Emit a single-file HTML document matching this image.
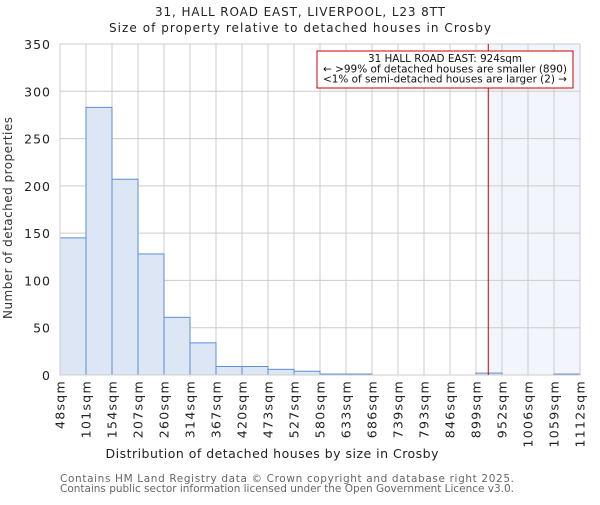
<!DOCTYPE html>
<html><head><meta charset="utf-8"><style>
body{margin:0;background:#fff}
svg{font-family:"DejaVu Sans","Liberation Sans",sans-serif}
</style></head><body>
<svg id="chart" width="600" height="500" viewBox="0 0 600 500">
<text x="300" y="16" text-anchor="middle" font-size="12" fill="#222" textLength="290" lengthAdjust="spacing">31, HALL ROAD EAST, LIVERPOOL, L23 8TT</text>
<text x="300" y="32" text-anchor="middle" font-size="12" fill="#222" textLength="382" lengthAdjust="spacing">Size of property relative to detached houses in Crosby</text>
<g id="plot"></g>
<text x="272" y="458" text-anchor="middle" font-size="12.5" fill="#222" textLength="333" lengthAdjust="spacing">Distribution of detached houses by size in Crosby</text>
<text transform="translate(12,218) rotate(-90)" text-anchor="middle" font-size="12" fill="#333" textLength="202" lengthAdjust="spacing">Number of detached properties</text>
<text x="60" y="482" font-size="10.5" fill="#666" textLength="454" lengthAdjust="spacing">Contains HM Land Registry data © Crown copyright and database right 2025.</text>
<text x="60" y="492" font-size="10.5" fill="#666" textLength="454" lengthAdjust="spacing">Contains public sector information licensed under the Open Government Licence v3.0.</text>
</svg>
<script>
const binLabels=["48sqm","101sqm","154sqm","207sqm","260sqm","314sqm","367sqm","420sqm","473sqm","527sqm","580sqm","633sqm","686sqm","739sqm","793sqm","846sqm","899sqm","952sqm","1006sqm","1059sqm","1112sqm"];
const binEdges=[48,101,154,207,260,314,367,420,473,527,580,633,686,739,793,846,899,952,1006,1059,1112];
const counts=[145,283,207,128,61,34,9,9,6,4,1,1,0,0,0,0,2,0,0,1];
const yTicks=[0,50,100,150,200,250,300,350];
const propertySize=924;
const annotationLines=["31 HALL ROAD EAST: 924sqm","← >99% of detached houses are smaller (890)","<1% of semi-detached houses are larger (2) →"];

const L=60,R=580,T=44,B=375,NS="http://www.w3.org/2000/svg";
const nb=counts.length;
const xi=i=>L+(R-L)*i/nb;
const xv=v=>{let i=0;while(i<nb-1&&v>binEdges[i+1])i++;return xi(i)+(v-binEdges[i])/(binEdges[i+1]-binEdges[i])*(R-L)/nb;};
const y=v=>B-(B-T)*v/350;
const g=document.getElementById('plot');
function mk(tag,attrs,parent){const e=document.createElementNS(NS,tag);for(const k in attrs)e.setAttribute(k,attrs[k]);(parent||g).appendChild(e);return e;}
const px=xv(propertySize);
let e=mk('rect',{x:px,y:T,width:R-px,height:B-T,fill:'#f2f5fc'});


yTicks.forEach(t=>{
 let l=mk('line',{x1:L,x2:R,y1:y(t),y2:y(t),stroke:'#ccc','stroke-width':1});
 
 
 let tx=mk('text',{x:L-9,y:y(t)+5,'text-anchor':'end','font-size':12.5,fill:'#222','letter-spacing':1});
 tx.textContent=t;
 
 
});
binLabels.forEach((lab,i)=>{
 let l=mk('line',{x1:xi(i),x2:xi(i),y1:T,y2:B,stroke:'#ccc','stroke-width':1});
 
 
 let tx=mk('text',{transform:`translate(${xi(i)+4.5},380) rotate(-90)`,'text-anchor':'end','font-size':12.5,fill:'#222','letter-spacing':1.3});
 tx.textContent=lab;
 
 
});
counts.forEach((c,i)=>{
 let r=mk('rect',{x:xi(i),y:y(c),width:(R-L)/nb,height:B-y(c),fill:'#dde6f4',stroke:'#5b8fd6','stroke-width':1});
 
 
});
let fr=mk('rect',{x:L,y:T,width:R-L,height:B-T,fill:'none',stroke:'#ccc'});


let rl=mk('line',{x1:px,x2:px,y1:T,y2:B,stroke:'#cc0000','stroke-width':1});


let box=mk('rect',{x:317,y:51,width:256,height:37,fill:'#fff',stroke:'#cc0000'});


const annLens=[154,244,244];
annotationLines.forEach((s,i)=>{
 let t=mk('text',{x:445,y:62+i*10.3,'text-anchor':'middle','font-size':10.5,fill:'#111',textLength:annLens[i],lengthAdjust:'spacingAndGlyphs'});
 t.textContent=s;
 
 
});
</script>
</body></html>
